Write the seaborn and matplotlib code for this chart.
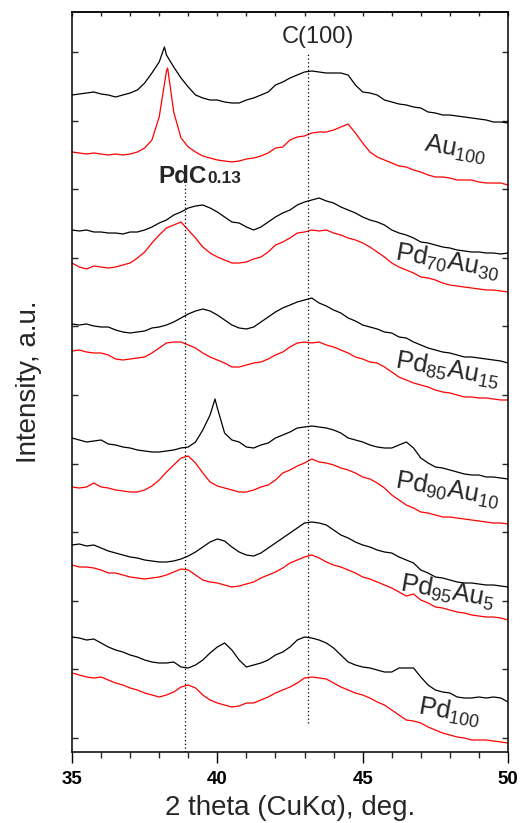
import numpy as np
import pandas as pd
import matplotlib
matplotlib.use("Agg")
import matplotlib.pyplot as plt
import seaborn as sns

# ---------------- data (offset intensities, arbitrary units) ----------------
# common sampling positions (2 theta, deg), every 0.25 deg from 35 to 50
two_theta = [35.0 + 0.25 * i for i in range(61)]

au100_black = [665, 666, 667, 668, 666, 665, 663, 665, 667, 670, 677, 687, 698, 705, 693, 682, 673, 665, 662, 660,
               660, 658, 657, 657, 660, 662, 665, 668, 675, 678, 682, 685, 688, 689, 688, 687, 687, 687, 685, 675,
               668, 667, 665, 660, 658, 656, 655, 653, 652, 648, 647, 645, 645, 644, 643, 642, 641, 640, 638, 638, 637]
au100_black_peak = ([38.18], [713])
au100_red = [608, 607, 606, 607, 606, 605, 606, 605, 606, 608, 612, 620, 643, 689, 648, 622, 613, 608, 604, 602,
             600, 599, 598, 599, 601, 602, 604, 607, 612, 613, 620, 623, 624, 627, 628, 628, 630, 633, 636, 627,
             617, 608, 603, 600, 597, 594, 593, 590, 588, 585, 583, 583, 582, 580, 580, 580, 578, 577, 577, 577, 575]
au100_red_peak = ([38.29], [692])

pd70_black = [530, 529, 530, 528, 528, 527, 527, 526, 528, 528, 530, 533, 537, 540, 545, 548, 552, 554, 555, 552,
              548, 543, 538, 537, 533, 530, 533, 538, 543, 547, 550, 555, 558, 560, 562, 559, 557, 553, 550, 547,
              543, 540, 538, 535, 530, 527, 525, 522, 518, 517, 515, 513, 512, 510, 509, 508, 508, 507, 507, 506, 507]
pd70_red = [497, 493, 491, 494, 493, 492, 493, 495, 497, 502, 508, 517, 525, 532, 535, 538, 530, 522, 513, 507,
            503, 500, 497, 497, 498, 501, 503, 508, 515, 518, 522, 527, 528, 530, 529, 530, 527, 525, 522, 520,
            517, 513, 508, 503, 497, 493, 490, 487, 483, 482, 480, 477, 475, 474, 473, 472, 471, 470, 470, 469, 468]

pd85_black = [436, 435, 436, 434, 433, 433, 430, 428, 427, 428, 429, 432, 433, 435, 438, 442, 446, 449, 451, 449,
              445, 440, 435, 432, 431, 433, 438, 443, 448, 452, 455, 458, 460, 462, 457, 454, 450, 447, 442, 439,
              435, 433, 431, 428, 427, 423, 422, 418, 415, 412, 410, 408, 407, 405, 403, 403, 402, 401, 400, 399, 397]
pd85_red = [409, 410, 408, 407, 407, 405, 401, 400, 401, 402, 403, 407, 412, 417, 418, 418, 415, 412, 407, 403,
            400, 397, 393, 393, 395, 397, 398, 401, 405, 408, 413, 417, 418, 417, 418, 415, 413, 410, 407, 403,
            401, 398, 397, 393, 388, 383, 380, 377, 375, 373, 370, 368, 367, 365, 363, 363, 362, 362, 361, 360, 360]

pd90_black = [322, 320, 318, 319, 320, 316, 315, 313, 312, 310, 309, 308, 308, 309, 310, 312, 313, 318, 330, 345,
              352, 327, 320, 318, 313, 312, 315, 317, 322, 325, 328, 332, 333, 334, 333, 332, 330, 327, 322, 320,
              318, 315, 313, 312, 312, 315, 318, 312, 302, 297, 293, 292, 290, 288, 286, 285, 285, 283, 283, 282, 281]
pd90_black_peak = ([39.92], [361])
pd90_red = [273, 272, 273, 277, 273, 272, 270, 269, 268, 268, 270, 274, 280, 288, 295, 302, 304, 297, 287, 278,
            274, 272, 270, 268, 268, 270, 273, 275, 280, 287, 290, 294, 297, 301, 298, 297, 295, 292, 290, 287,
            283, 281, 277, 272, 265, 260, 255, 252, 248, 247, 245, 243, 243, 242, 241, 240, 239, 238, 237, 237, 236]

pd95_black = [215, 216, 214, 215, 212, 209, 207, 205, 203, 202, 200, 199, 198, 198, 199, 201, 204, 208, 213, 218,
              221, 219, 213, 208, 205, 204, 207, 212, 217, 222, 227, 232, 237, 238, 237, 235, 230, 225, 222, 218,
              215, 213, 210, 208, 207, 203, 200, 197, 190, 187, 183, 182, 180, 178, 177, 177, 176, 175, 175, 174, 173]
pd95_red = [195, 193, 193, 192, 190, 187, 187, 185, 183, 182, 181, 182, 183, 185, 188, 191, 190, 185, 180, 178,
            177, 175, 173, 174, 176, 178, 182, 185, 188, 192, 197, 200, 203, 205, 202, 198, 195, 193, 190, 187,
            183, 181, 178, 175, 172, 168, 164, 166, 160, 157, 153, 152, 150, 148, 147, 145, 144, 143, 143, 142, 140]

pd100_black = [123, 122, 120, 121, 117, 113, 110, 108, 105, 103, 100, 98, 97, 97, 98, 93, 92, 95, 100, 107,
               113, 117, 110, 100, 93, 95, 97, 100, 105, 108, 113, 120, 123, 122, 120, 117, 112, 105, 98, 95,
               93, 92, 90, 88, 88, 92, 92, 92, 83, 75, 70, 68, 67, 63, 62, 62, 63, 62, 63, 62, 58]
pd100_red = [87, 85, 83, 82, 83, 80, 77, 75, 72, 70, 67, 65, 63, 65, 68, 73, 75, 72, 65, 60,
             57, 55, 53, 54, 57, 57, 60, 63, 67, 70, 73, 77, 82, 83, 82, 81, 77, 73, 70, 67,
             65, 62, 58, 55, 50, 45, 40, 39, 37, 33, 30, 27, 25, 23, 22, 20, 20, 20, 19, 18, 17]

sample_labels = [r"Au$_{100}$", r"Pd$_{70}$Au$_{30}$", r"Pd$_{85}$Au$_{15}$",
                 r"Pd$_{90}$Au$_{10}$", r"Pd$_{95}$Au$_{5}$", r"Pd$_{100}$"]
x_ticks = [35, 40, 45, 50]
pdc_pos = 38.88
c100_pos = 43.12

# ---------------- styling ----------------
sns.set_theme(style="ticks")
plt.rcParams["font.family"] = ["Liberation Sans", "DejaVu Sans"]
plt.rcParams["mathtext.fontset"] = "custom"
plt.rcParams["mathtext.rm"] = "Liberation Sans"
plt.rcParams["mathtext.it"] = "Liberation Sans:italic"
plt.rcParams["mathtext.bf"] = "Liberation Sans:bold"

fig = plt.figure(figsize=(5.22, 8.23), dpi=100)
ax = fig.add_axes([72 / 522, 71 / 823, 436 / 522, 740 / 823])


def curve_frame(values, extra=None):
    xs = list(two_theta)
    ys = list(values)
    if extra is not None:
        xs += extra[0]
        ys += extra[1]
    df = pd.DataFrame({"x": xs, "y": ys}).sort_values("x")
    return df


curves = [
    (curve_frame(au100_black, au100_black_peak), "black"),
    (curve_frame(au100_red, au100_red_peak), "#ff0000"),
    (curve_frame(pd70_black), "black"), (curve_frame(pd70_red), "#ff0000"),
    (curve_frame(pd85_black), "black"), (curve_frame(pd85_red), "#ff0000"),
    (curve_frame(pd90_black, pd90_black_peak), "black"), (curve_frame(pd90_red), "#ff0000"),
    (curve_frame(pd95_black), "black"), (curve_frame(pd95_red), "#ff0000"),
    (curve_frame(pd100_black), "black"), (curve_frame(pd100_red), "#ff0000"),
]
for df, col in curves:
    sns.lineplot(data=df, x="x", y="y", color=col, lw=0.9, ax=ax,
                 estimator=None, sort=False)

# reference lines
ax.plot([pdc_pos, pdc_pos], [8, 575], ls=(0, (1, 2)), color="black", lw=0.9)
ax.plot([c100_pos, c100_pos], [37, 708], ls=(0, (1, 2)), color="black", lw=0.9)

ax.text(43.45, 717, "C(100)", fontsize=17, ha="center", va="baseline")
ax.text(39.64, 577, "PdC", fontsize=17.5, fontweight="bold", ha="right", va="baseline")
ax.text(39.66, 577, "0.13", fontsize=12.5, fontweight="bold", ha="left", va="baseline")

label_pos = [(48.18, 610), (47.9, 498), (47.9, 390), (47.93, 270), (47.93, 168), (48.0, 48)]
for lab, (lx, ly) in zip(sample_labels, label_pos):
    ax.text(lx, ly, lab, fontsize=18.5, rotation=-10, ha="center", va="center",
            rotation_mode="anchor")

ax.set_xlim(35, 50)
ax.set_ylim(8, 748)
ax.set_xticks(x_ticks)
ax.set_xticklabels([str(t) for t in x_ticks], fontweight="bold", fontsize=13.5)
ax.set_xticks(np.arange(35, 51, 1), minor=True)
ax.set_yticks(np.arange(22, 748, 68.6))
ax.set_yticklabels([])
ax.tick_params(axis="x", which="major", direction="out", length=8, width=1, pad=6, colors="black")
ax.tick_params(axis="x", which="minor", direction="out", length=4.5, width=1)
ax.tick_params(axis="y", which="major", direction="in", length=4, width=1, left=True, right=True)
sec = ax.secondary_xaxis("top")
sec.set_xticks(np.arange(35, 51, 1))
sec.set_xticklabels([])
sec.tick_params(direction="in", length=3, width=1)
sec.spines["top"].set_linewidth(1.1)
for s in ax.spines.values():
    s.set_linewidth(1.1)
    s.set_color("black")

ax.set_xlabel("2 theta (CuKα), deg.", fontsize=20, va="baseline")
ax.xaxis.set_label_coords(0.5, (752 - 815) / 740)
ax.set_ylabel("Intensity, a.u.", fontsize=20)
ax.yaxis.set_label_coords((42 - 72) / 436, 0.5)

fig.savefig("out.png", dpi=100)
